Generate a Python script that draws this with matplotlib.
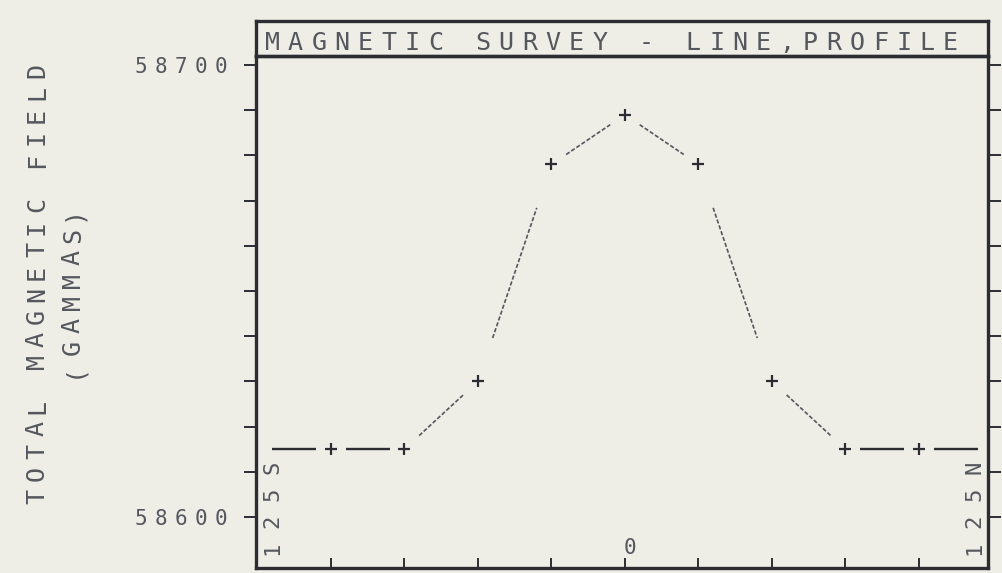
import matplotlib.pyplot as plt
import numpy as np

# survey stations along the line (S negative, N positive) and field readings (gammas)
stations = [-125, -100, -75, -50, -25, 0, 25, 50, 75, 100, 125]
field = [58615, 58615, 58615, 58630, 58678, 58689, 58678, 58630, 58615, 58615, 58615]
ytick_values = list(range(58600, 58701, 10))
ylabel_values = [58600, 58700]
xtick_values = [-100, -75, -50, -25, 0, 25, 50, 75, 100]
title = "MAGNETIC SURVEY - LINE,PROFILE"
ylabel1 = "TOTAL MAGNETIC FIELD"
ylabel2 = "(GAMMAS)"

PAPER = "#eeede6"
INK = "#2b2d33"
PEN = "#55575e"
FONT = "DejaVu Sans Mono"
W, H = 1002, 573

fig = plt.figure(figsize=(W / 100, H / 100), dpi=100, facecolor=PAPER)

# main plotting area and the title box sitting on top of it
ax = fig.add_axes([256 / W, 5 / H, 732 / W, 512 / H], facecolor=PAPER)
tax = fig.add_axes([256 / W, 517 / H, 732 / W, 35 / H], facecolor="none")
for a in (ax, tax):
    for sp in a.spines.values():
        sp.set_linewidth(2.4)
        sp.set_color(INK)
tax.set_xticks([])
tax.set_yticks([])

ax.set_xlim(-125.5, 123.5)
ax.set_ylim(58588.7, 58702.0)
ax.set_yticks(ytick_values)
ax.set_xticks(xtick_values)
ax.tick_params(axis="y", direction="out", left=True, right=True, length=9,
               width=1.4, color=INK, labelleft=False)
ax.tick_params(axis="x", direction="in", bottom=True, length=7, width=1.4,
               color=INK, labelbottom=False)

# plotter style: each segment drawn only over its middle part
x = np.array(stations, dtype=float)
y = np.array(field, dtype=float)
for i in range(len(x) - 1):
    xs = [x[i] + 0.2 * (x[i + 1] - x[i]), x[i] + 0.8 * (x[i + 1] - x[i])]
    ys = [y[i] + 0.2 * (y[i + 1] - y[i]), y[i] + 0.8 * (y[i + 1] - y[i])]
    if y[i] == y[i + 1]:
        ax.plot(xs, ys, color=INK, lw=1.7, solid_capstyle="butt")
    else:
        ax.plot(xs, ys, color=PEN, lw=1.2, ls=(0, (2.5, 1.2)))
# end stations sit on the frame, their crosses are not drawn
ax.plot(x[1:-1], y[1:-1], ls="none", marker="+", ms=9, mew=1.6, color=INK)


def spaced(x0, y0, s, pitch, size, vertical=False, color=PEN):
    # x0, y0: pixels from top-left; horizontal text uses y0 as baseline
    for i, ch in enumerate(s):
        if ch == " ":
            continue
        if vertical:
            fig.text(x0 / W, 1 - (y0 - i * pitch) / H, ch, rotation=90,
                     ha="center", va="center", fontsize=size, family=FONT, color=color)
        else:
            fig.text((x0 + i * pitch) / W, 1 - y0 / H, ch, ha="center",
                     va="baseline", fontsize=size, family=FONT, color=color)


def to_px(xv, yv):
    px, py = ax.transData.transform((xv, yv))
    return px, H - py


spaced(272, 50, title, 23.4, 18)
spaced(37, 496, ylabel1, 22.4, 18, vertical=True)
spaced(73, 370, ylabel2, 22.4, 18, vertical=True)

for v in ylabel_values:
    _, py = to_px(0, v)
    spaced(141, py + 8, str(v), 20, 15)

# end-of-line station labels and the centre station
spaced(272, 548, f"{abs(stations[0])}S", 27, 16, vertical=True)
spaced(974, 548, f"{stations[-1]}N", 27, 16, vertical=True)
cx, _ = to_px(0, 0)
spaced(cx + 5, 554, "0", 20, 15)

fig.savefig("out.png", dpi=100, facecolor=PAPER)
